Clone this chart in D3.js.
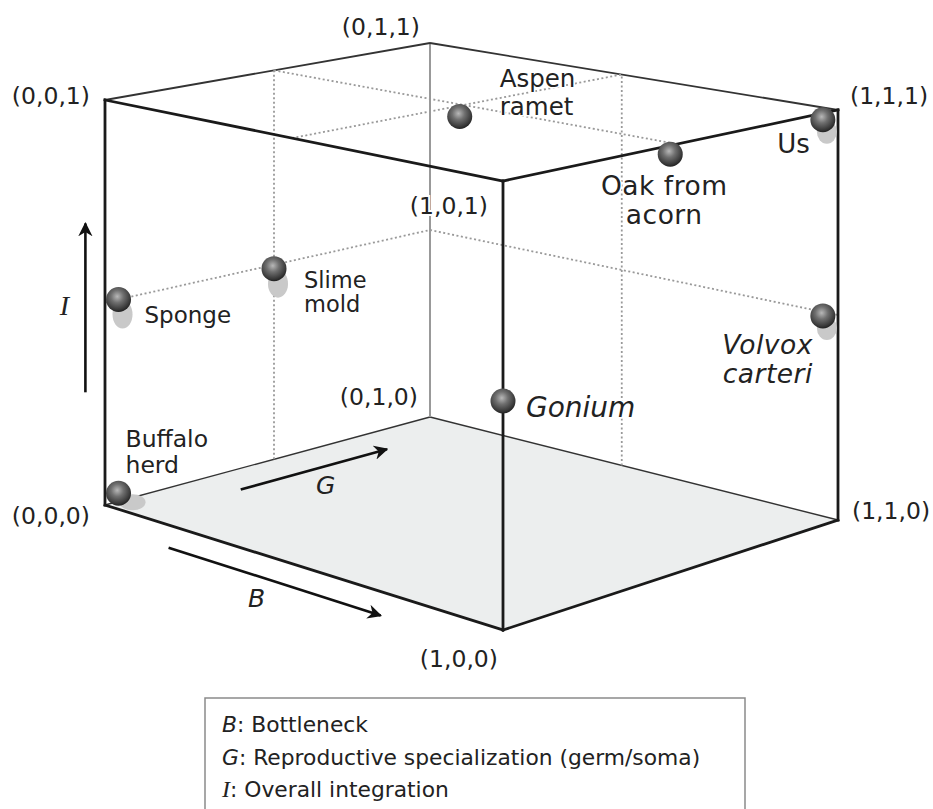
<!DOCTYPE html>
<html><head><meta charset="utf-8">
<script src="https://cdn.jsdelivr.net/npm/d3@7"></script>
<style>body{margin:0;background:#fff}</style>
</head><body>
<svg id="c" width="933" height="809"></svg>
<script>
// ---------- data ----------
const organisms = ["Buffalo herd","Sponge","Slime mold","Aspen ramet","Oak from acorn","Us","Volvox carteri","Gonium"];
const labelLines = [["Buffalo","herd"],["Sponge"],["Slime","mold"],["Aspen","ramet"],["Oak from","acorn"],["Us"],["Volvox","carteri"],["Gonium"]];
const bValues = [0, 0, 0, 0.49, 1, 0.965, 0.965, 1];
const gValues = [0.04, 0.04, 0.5, 0.5, 0.48, 1, 1, 0];
const iValues = [0.02, 0.5, 0.49, 0.97, 0.98, 0.97, 0.49, 0.51];
const italicNames = ["Volvox carteri","Gonium"];
const cornerB = [0,1,0,1,0,1,0,1];
const cornerG = [0,0,1,1,0,0,1,1];
const cornerI = [0,0,0,0,1,1,1,1];
const cornerLabels = ["(0,0,0)","(1,0,0)","(0,1,0)","(1,1,0)","(0,0,1)","(1,0,1)","(0,1,1)","(1,1,1)"];
const gridPaths = [
  [[0,0,0.5],[0,1,0.5],[1,1,0.5]],
  [[0,0.5,0],[0,0.5,1]],
  [[0.5,1,0],[0.5,1,1]],
  [[0,0.5,1],[1,0.5,1]],
  [[0.5,0,1],[0.5,1,1]]
];
const axisKeys = ["B","G","I"];
const legendTexts = ["Bottleneck","Reproductive specialization (germ/soma)","Overall integration"];

// ---------- layout / projection ----------
const anchor = { // screen positions of cube corners (layout frame)
  "000":[105,505],"100":[503,630],"010":[430,417],"110":[838,520],
  "001":[105,100],"101":[503,181],"011":[430,43],"111":[838,110]
};
const bScale = d3.scaleLinear().domain([0,0.5,1]).range([0,0.47,1]);
const gScale = d3.scaleLinear().domain([0,0.5,1]).range([0,0.52,1]);
const iScale = d3.scaleLinear().domain([0,1]).range([0,1]);
function P(b,g,i){
  const fb=bScale(b), fg=gScale(g), fi=iScale(i);
  let x=0,y=0;
  for (const kb of [0,1]) for (const kg of [0,1]) for (const ki of [0,1]){
    const w=(kb?fb:1-fb)*(kg?fg:1-fg)*(ki?fi:1-fi);
    const p=anchor[""+kb+kg+ki];
    x+=w*p[0]; y+=w*p[1];
  }
  return [x,y];
}

const svg = d3.select("#c");
const defs = svg.append("defs");
const grad = defs.append("radialGradient").attr("id","ball").attr("cx","45%").attr("cy","38%").attr("r","62%");
grad.append("stop").attr("offset","0%").attr("stop-color","#b8b8b8");
grad.append("stop").attr("offset","40%").attr("stop-color","#707070");
grad.append("stop").attr("offset","85%").attr("stop-color","#383838");
grad.append("stop").attr("offset","100%").attr("stop-color","#222");
const mk = defs.append("marker").attr("id","arr").attr("viewBox","0 0 10 10").attr("refX",9).attr("refY",5)
  .attr("markerWidth",5.5).attr("markerHeight",5.5).attr("orient","auto").attr("markerUnits","strokeWidth");
mk.append("path").attr("d","M0,0 L10,5 L0,10 L3,5 Z").attr("fill","#111");

const line = d3.line();
const seg = (a,b)=>line([P(...a),P(...b)]);

// floor
svg.append("path").attr("d", line([P(0,0,0),P(0,1,0),P(1,1,0),P(1,0,0)])+"Z").attr("fill","#eceeee");

// back / thin edges
const thinEdges = [
  {a:[0,0,0],b:[0,1,0],c:"#333",w:1.4},
  {a:[0,1,0],b:[1,1,0],c:"#333",w:1.4},
  {a:[0,1,0],b:[0,1,1],c:"#999",w:2},
  {a:[0,0,1],b:[0,1,1],c:"#333",w:1.8},
  {a:[0,1,1],b:[1,1,1],c:"#333",w:1.8}
];
svg.selectAll(".thin").data(thinEdges).join("path").attr("d",d=>seg(d.a,d.b))
  .attr("stroke",d=>d.c).attr("stroke-width",d=>d.w).attr("fill","none");

// dotted reference lines
svg.selectAll(".grid").data(gridPaths).join("path").attr("d",d=>line(d.map(p=>P(...p))))
  .attr("fill","none").attr("stroke","#999").attr("stroke-width",1.8).attr("stroke-dasharray","2,2.5");

// front thick edges
const thickEdges = [
  [[0,0,0],[0,0,1]],[[1,0,0],[1,0,1]],[[1,1,0],[1,1,1]],
  [[0,0,0],[1,0,0]],[[1,0,0],[1,1,0]],
  [[0,0,1],[1,0,1]],[[1,0,1],[1,1,1]]
];
svg.selectAll(".thick").data(thickEdges).join("path").attr("d",d=>seg(d[0],d[1]))
  .attr("stroke","#1a1a1a").attr("stroke-width",2.8).attr("fill","none").attr("stroke-linecap","square");

// corner labels
const cornerStyle = [
  {a:"end",dx:-15,dy:19},{a:"end",dx:-5,dy:37},{a:"end",dx:-12,dy:-12},{a:"start",dx:14,dy:-1},
  {a:"end",dx:-15,dy:4},{a:"end",dx:-15,dy:33},{a:"end",dx:-10,dy:-8},{a:"start",dx:12,dy:-6}
];
svg.selectAll(".corner").data(cornerLabels).join("text")
  .attr("x",(d,k)=>P(cornerB[k],cornerG[k],cornerI[k])[0]+cornerStyle[k].dx)
  .attr("y",(d,k)=>P(cornerB[k],cornerG[k],cornerI[k])[1]+cornerStyle[k].dy)
  .attr("text-anchor",(d,k)=>cornerStyle[k].a)
  .attr("font-family","DejaVu Sans").attr("font-size",23.5).attr("fill","#222")
  .attr("stroke","#fff").attr("stroke-width",4).attr("paint-order","stroke")
  .text(d=>d);

// axis arrows
const arrows = [
  {from:[0.17,0,-0.055],to:[0.71,0,-0.055],lab:[0.405,0,-0.108]},
  {from:[0.1,0.29,0],to:[0.1,0.74,0],lab:[0.19,0.44,0]},
  {from:[0,-0.058,0.29],to:[0,-0.058,0.705],lab:[0,-0.12,0.515]}
];
svg.selectAll(".arrow").data(arrows).join("path").attr("d",d=>seg(d.from,d.to))
  .attr("stroke","#111").attr("stroke-width",2.6).attr("fill","none").attr("marker-end","url(#arr)");
svg.selectAll(".axlab").data(axisKeys).join("text")
  .attr("x",(d,k)=>P(...arrows[k].lab)[0]).attr("y",(d,k)=>P(...arrows[k].lab)[1])
  .attr("text-anchor","middle").attr("dominant-baseline","central")
  .attr("font-family",d=>d==="I"?"Liberation Serif":"DejaVu Sans")
  .attr("font-size",d=>d==="I"?28:25).attr("font-style","italic").attr("fill","#222")
  .text(d=>d);

// balls
const shadowStyle = {
  "Buffalo herd":{dx:14,dy:9,rx:13,ry:8},
  "Sponge":{dx:4,dy:15,rx:10,ry:14},
  "Slime mold":{dx:4,dy:15,rx:10,ry:14},
  "Us":{dx:4,dy:12,rx:10,ry:12},
  "Volvox carteri":{dx:4,dy:12,rx:10,ry:12}
};
const pts = organisms.map((n,k)=>({name:n,lines:labelLines[k],p:P(bValues[k],gValues[k],iValues[k])}));
svg.selectAll(".shadow").data(pts.filter(d=>shadowStyle[d.name])).join("ellipse")
  .attr("cx",d=>d.p[0]+shadowStyle[d.name].dx).attr("cy",d=>d.p[1]+shadowStyle[d.name].dy)
  .attr("rx",d=>shadowStyle[d.name].rx).attr("ry",d=>shadowStyle[d.name].ry)
  .attr("fill","#c9c9c9");
svg.selectAll(".ball").data(pts).join("circle")
  .attr("cx",d=>d.p[0]).attr("cy",d=>d.p[1]).attr("r",12.5).attr("fill","url(#ball)");

// point labels (font size grows with depth toward viewer)
const labelStyle = {
  "Buffalo herd":{a:"start",dx:7,dy:-46,fs:23.5,lh:26,ls:0},
  "Sponge":{a:"start",dx:26,dy:24,fs:23,lh:24,ls:0},
  "Slime mold":{a:"start",dx:30,dy:19,fs:22.5,lh:24,ls:0},
  "Aspen ramet":{a:"start",dx:40,dy:-30,fs:24.5,lh:28,ls:0},
  "Oak from acorn":{a:"middle",dx:-6,dy:41,fs:26.5,lh:28.8,ls:0.5},
  "Us":{a:"end",dx:-13,dy:33,fs:26,lh:25,ls:0},
  "Volvox carteri":{a:"end",dx:-10,dy:38,fs:26.5,lh:28.8,ls:0.5},
  "Gonium":{a:"start",dx:23,dy:16,fs:28,lh:25,ls:0}
};
const lab = svg.selectAll(".plab").data(pts).join("text")
  .attr("text-anchor",d=>labelStyle[d.name].a)
  .attr("font-family","DejaVu Sans").attr("font-size",d=>labelStyle[d.name].fs).attr("fill","#222")
  .attr("letter-spacing",d=>labelStyle[d.name].ls)
  .attr("font-style",d=>italicNames.includes(d.name)?"italic":"normal")
  .attr("stroke","#fff").attr("stroke-width",3).attr("paint-order","stroke");
lab.selectAll("tspan").data(d=>d.lines.map((t,j)=>({t,j,d}))).join("tspan")
  .attr("x",e=>e.d.p[0]+labelStyle[e.d.name].dx)
  .attr("y",e=>e.d.p[1]+labelStyle[e.d.name].dy+e.j*labelStyle[e.d.name].lh)
  .text(e=>e.t);

// legend
const lg = svg.append("g");
lg.append("rect").attr("x",205).attr("y",698).attr("width",540).attr("height",140)
  .attr("fill","#fff").attr("stroke","#8a8a8a").attr("stroke-width",1.5);
const lt = lg.selectAll("text").data(axisKeys).join("text")
  .attr("x",222).attr("y",(d,k)=>732+k*32.5)
  .attr("font-family","DejaVu Sans").attr("font-size",21.8).attr("fill","#222");
lt.append("tspan").attr("font-style","italic")
  .attr("font-family",d=>d==="I"?"Liberation Serif":"DejaVu Sans")
  .attr("font-size",d=>d==="I"?24:21.8).text(d=>d);
lt.append("tspan").text((d,k)=>": "+legendTexts[k]);
</script>
</body></html>
